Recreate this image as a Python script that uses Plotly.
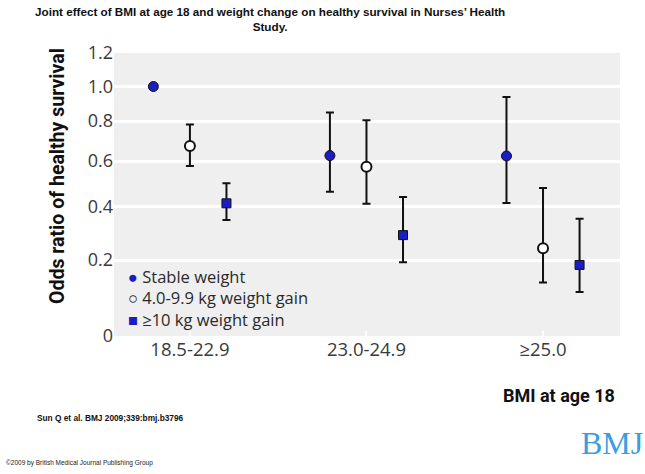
import numpy as np
import plotly.graph_objects as go

# ---- data ----
categories = ["18.5-22.9", "23.0-24.9", "≥25.0"]
series_names = ["Stable weight", "4.0-9.9 kg weight gain", "≥10 kg weight gain"]

stable_or = [1.0, 0.627, 0.625]
stable_lo = [1.0, 0.465, 0.415]
stable_hi = [1.0, 0.850, 0.939]

gain4_or = [0.675, 0.575, 0.244]
gain4_lo = [0.578, 0.412, 0.141]
gain4_hi = [0.783, 0.804, 0.481]

gain10_or = [0.414, 0.293, 0.187]
gain10_lo = [0.350, 0.194, 0.116]
gain10_hi = [0.502, 0.442, 0.354]

y_tick_vals = [0, 0.2, 0.4, 0.6, 0.8, 1.0, 1.2]
y_tick_text = ["0", "0.2", "0.4", "0.6", "0.8", "1.0", "1.2"]
# nonlinear axis scale of the original figure: axis position of each tick value
y_scale_pos = [0, 76, 129.5, 175, 215, 249.5, 283]


def yscale(v):
    return np.interp(np.asarray(v, dtype=float), y_tick_vals, y_scale_pos)


BLUE = "#1c1cc4"
styles = [
    dict(symbol="circle", size=10, color=BLUE, line=dict(color="#111", width=1)),
    dict(symbol="circle", size=10, color="white", line=dict(color="#111", width=2)),
    dict(symbol="square", size=9, color=BLUE, line=dict(color="#111", width=1)),
]
legend_glyphs = [
    f"<span style='color:{BLUE}'>●</span>",
    "<span style='color:#111'><b>○</b></span>",
    f"<span style='color:{BLUE}'>■</span>",
]
offsets = [-0.207, 0.0, 0.207]

fig = go.Figure()
all_series = [
    (stable_or, stable_lo, stable_hi),
    (gain4_or, gain4_lo, gain4_hi),
    (gain10_or, gain10_lo, gain10_hi),
]
for k, (orv, lo, hi) in enumerate(all_series):
    xs = np.arange(len(categories)) + offsets[k]
    y = yscale(orv)
    fig.add_trace(go.Scatter(
        x=xs, y=y, mode="markers", name=series_names[k],
        marker=styles[k],
        error_y=dict(type="data", symmetric=False,
                     array=yscale(hi) - y, arrayminus=y - yscale(lo),
                     color="#111", thickness=2, width=4),
        hoverinfo="skip",
    ))

W, H = 645, 474
L, R, T, B = 114, 25, 53, 138
pw, ph = W - L - R, H - T - B


def px(xp):
    return (xp - L) / pw


def py(yp):
    return (H - B - yp) / ph


TICKFONT = dict(family="Open Sans, Noto Sans, sans-serif", size=18, color="#3a3a3a")
NARROW = "Liberation Sans Narrow, Arial Narrow, Liberation Sans, Arial"

fig.update_layout(
    width=W, height=H,
    margin=dict(l=L, r=R, t=T, b=B),
    paper_bgcolor="white",
    plot_bgcolor="#efefef",
    showlegend=False,
    xaxis=dict(
        range=[-0.43, 2.436], tickvals=list(range(len(categories))), ticktext=categories,
        showgrid=False, zeroline=False, ticks="inside", tickcolor="white",
        ticklen=5, tickwidth=2, tickfont=TICKFONT | dict(size=18.5), showline=False,
    ),
    yaxis=dict(
        range=[0, 283], tickvals=list(yscale(y_tick_vals)), ticktext=y_tick_text,
        showgrid=True, gridcolor="white", gridwidth=2.5, zeroline=False,
        tickfont=TICKFONT, ticks="", showline=False,
    ),
)

legend_text = "<br>".join(f"{legend_glyphs[k]} {name}" for k, name in enumerate(series_names))

annos = [
    dict(text="<b>Joint effect of BMI at age 18 and weight change on healthy survival in Nurses’ Health<br>Study.</b>",
         x=px(270), y=py(3), yanchor="top",
         font=dict(family=NARROW, size=11.7, color="#111")),
    dict(text="<b>Odds ratio of healthy survival</b>", x=px(57), y=py(176), textangle=-90,
         font=dict(family="Roboto, sans-serif", size=19.5, color="#111")),
    dict(text="<b>BMI at age 18</b>", x=px(559), y=py(395),
         font=dict(family="Roboto, sans-serif", size=18, color="#111")),
    dict(text="<b>Sun Q et al. BMJ 2009;339:bmj.b3796</b>", x=px(35), y=py(418), xanchor="left",
         font=dict(family=NARROW, size=8.3, color="#111")),
    dict(text="©2009 by British Medical Journal Publishing Group", x=px(4), y=py(463), xanchor="left",
         font=dict(family=NARROW, size=6.5, color="#222")),
    dict(text="BMJ", x=px(612), y=py(443),
         font=dict(family="Liberation Serif, DejaVu Serif, serif", size=32, color="#3a9ee0")),
    # legend (text rows inside the plot, as in the original)
    dict(text=legend_text, x=px(126), y=py(298), xanchor="left", align="left",
         font=TICKFONT | dict(size=16.5, color="#2a2a2a")),
]

for a in annos:
    a.setdefault("xanchor", "center")
    a.setdefault("yanchor", "middle")
    fig.add_annotation(xref="paper", yref="paper", showarrow=False, **a)

fig.write_html("out.html", config={"displayModeBar": False},
               post_script="document.body.style.margin='0';")
